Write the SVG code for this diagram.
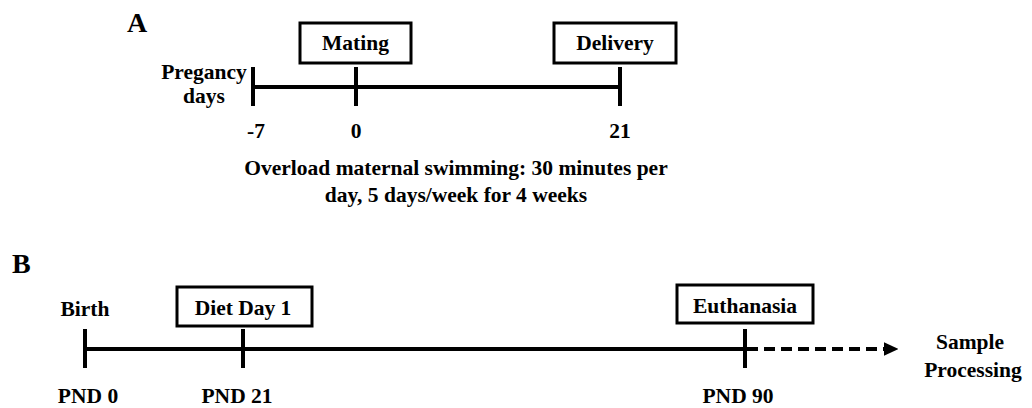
<svg xmlns="http://www.w3.org/2000/svg" width="1032" height="408" viewBox="0 0 1032 408">
<style>
text{font-family:"Liberation Serif","Times New Roman",serif;font-weight:bold;fill:#000;font-size:21.5px}
.m{text-anchor:middle}
.panel{font-size:28px}
.box{fill:#fff;stroke:#000;stroke-width:3}
.tl{stroke:#000;stroke-width:4;fill:none}
.dash{stroke:#000;stroke-width:4;fill:none;stroke-dasharray:11 6}
</style>
<defs>
<marker id="ah" markerWidth="3.6" markerHeight="3.4" refX="0" refY="1.7" orient="auto" markerUnits="strokeWidth">
<path d="M0,0 L3.6,1.7 L0,3.4 Z" fill="#000"/>
</marker>
</defs>
<rect width="1032" height="408" fill="#fff"/>
<text class="panel" x="127" y="32">A</text>
<text class="panel" x="12" y="273">B</text>
<g id="connectors">
<line class="tl" x1="253" y1="87" x2="620" y2="87"/>
<line class="tl" x1="253" y1="67" x2="253" y2="106"/>
<line class="tl" x1="356" y1="67" x2="356" y2="106"/>
<line class="tl" x1="620" y1="67" x2="620" y2="106"/>
<line class="tl" x1="85" y1="349" x2="745" y2="349"/>
<line class="tl" x1="85" y1="329" x2="85" y2="368"/>
<line class="tl" x1="243" y1="329" x2="243" y2="368"/>
<line class="tl" x1="745" y1="329" x2="745" y2="368"/>
<line class="dash" x1="747" y1="349" x2="884" y2="349" marker-end="url(#ah)"/>
</g>
<g id="pregnancy-label">
<text class="m" x="204" y="79">Pregancy</text>
<text class="m" x="204" y="103">days</text>
</g>
<g id="mating"><rect class="box" x="300" y="23" width="111" height="40"/><text class="m" x="355.5" y="50">Mating</text></g>
<g id="delivery"><rect class="box" x="554" y="23" width="122" height="40"/><text class="m" x="615" y="50">Delivery</text></g>
<g id="day-labels-a">
<text class="m" x="256" y="138">-7</text>
<text class="m" x="356" y="138">0</text>
<text class="m" x="620" y="138">21</text>
</g>
<g id="swimming-note">
<text class="m" x="456" y="175">Overload maternal swimming: 30 minutes per</text>
<text class="m" x="456" y="202">day, 5 days/week for 4 weeks</text>
</g>
<g id="birth"><text class="m" x="85" y="316">Birth</text></g>
<g id="diet-day-1"><rect class="box" x="177" y="287" width="135" height="39"/><text class="m" x="243" y="315">Diet Day 1</text></g>
<g id="euthanasia"><rect class="box" x="677" y="285" width="136" height="38"/><text class="m" x="745" y="313">Euthanasia</text></g>
<g id="sample-processing">
<text class="m" x="970" y="349">Sample</text>
<text class="m" x="973" y="377">Processing</text>
</g>
<g id="pnd-labels">
<text class="m" x="88" y="403">PND 0</text>
<text class="m" x="237" y="403">PND 21</text>
<text class="m" x="738" y="403">PND 90</text>
</g>
</svg>
